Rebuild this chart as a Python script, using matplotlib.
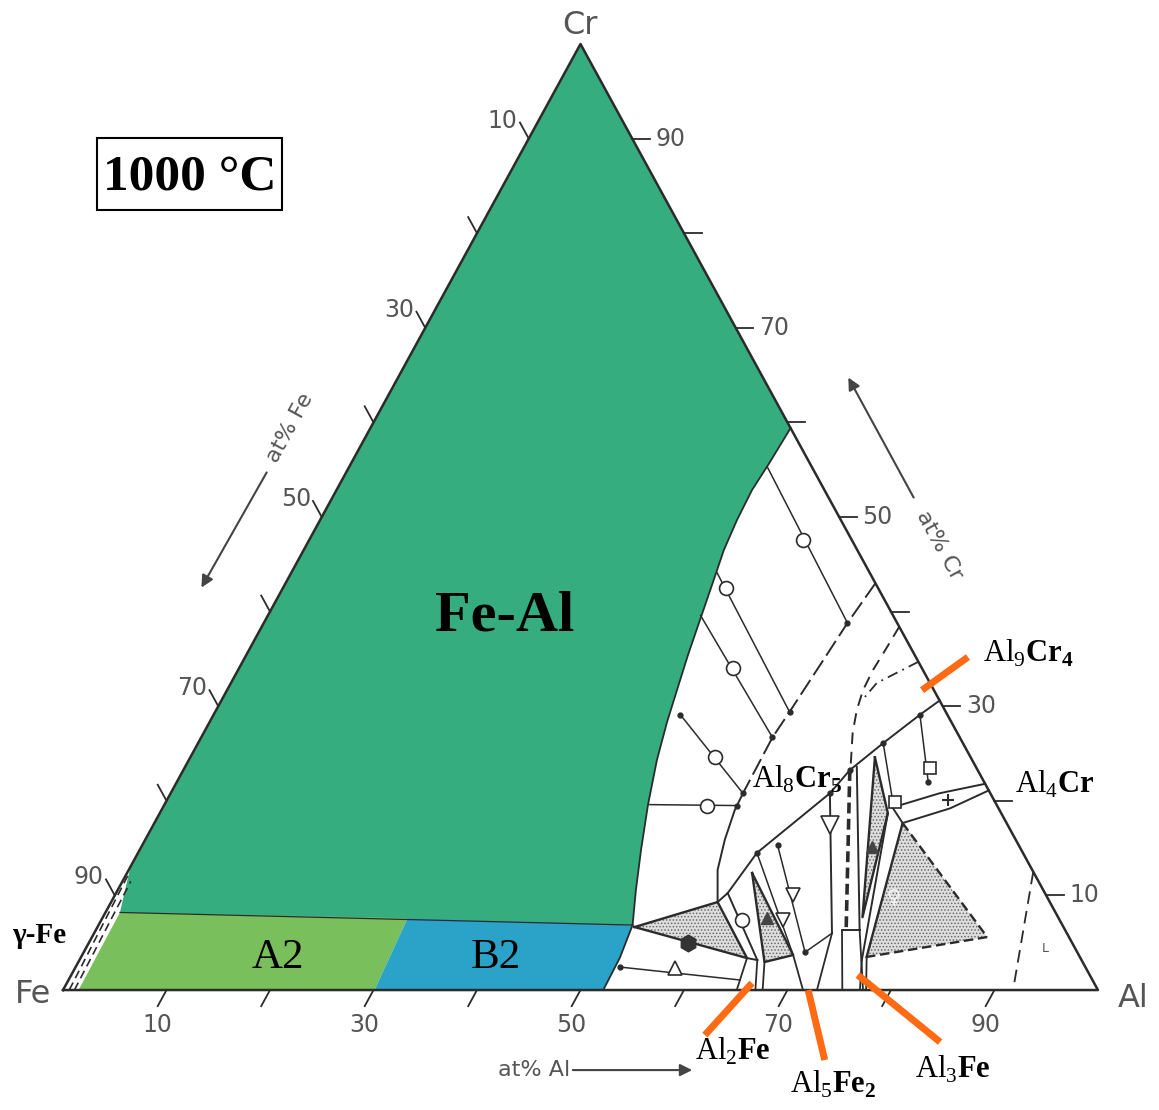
import matplotlib.pyplot as plt
import numpy as np

plt.rcParams["mathtext.fontset"] = "custom"
plt.rcParams["mathtext.rm"] = "Liberation Serif"
plt.rcParams["mathtext.bf"] = "Liberation Serif:bold"
plt.rcParams["hatch.linewidth"] = 0.7

# all compositions are (at% Al, at% Cr); Fe is the remainder
FE_AL_EDGE = [(40.6, 59.4), (40.4, 55.8), (40.15, 52.85), (40.28, 49.68), (40.6, 46.51),
              (41.3, 42.81), (41.99, 39.11), (42.68, 35.41), (43.47, 31.71), (44.2, 28.33),
              (45.23, 24.31), (46.74, 19.56), (48.45, 14.8), (50.07, 10.57), (51.6, 6.87)]
FE_AL_REGION = [(0, 100)] + FE_AL_EDGE + [(1.4, 8.2), (0.1, 12.7)]
A2_REGION = [(1.5, 0), (1.4, 8.2), (29.5, 7.6), (30.1, 0)]
B2_REGION = [(29.5, 7.6), (51.6, 6.87), (52.1, 3.4), (52.2, 0), (30.1, 0)]
B2_EDGE = [(51.6, 6.87), (52.1, 3.4), (52.2, 0)]
A2_TOP = [(1.4, 8.2), (51.6, 6.87)]
GAMMA_DASH_1 = [(0.6, 0), (0.2, 12.5)]
GAMMA_DASH_2 = [(1.1, 0), (0.8, 11.5)]

# tie lines: start, end
TIE_LINES = [
    [(40.4, 55.3), (56.4, 38.8)],
    [(41.15, 44.1), (55.5, 29.4)],
    [(41.8, 39.6), (55.2, 26.7)],
    [(45.1, 29.1), (55.3, 20.8)],
    [(46.9, 19.6), (55.4, 19.5)],
    [(52.6, 2.43), (64.9, 1.06)],
    [(59.8, 14.5), (68.7, 3.7)],
    [(61.4, 15.3), (69.7, 4.0)],
    [(69.7, 4.0), (71.3, 6.0)],
    [(68.25, 29.1), (72.6, 22.0)],
    [(66.2, 26.1), (70.1, 20.1)],
]
OPEN_CIRCLES = [(47.7, 47.6), (42.8, 42.5), (47.7, 34.0), (50.7, 24.6), (52.5, 19.5), (61.9, 7.4)]
DOWN_TRIANGLES = [(65.9, 7.4), (65.5, 10.0)]
BIG_DOWN_TRIANGLE = [(65.4, 17.4)]
UP_TRIANGLES = [(58.0, 2.3)]
SQUARES = [(72.0, 23.5), (70.45, 19.9)]
CROSSES = [(75.45, 20.1)]
FILLED_DOTS = [(57.9, 4.97)]
FILLED_TRIANGLES = [(64.2, 7.6), (70.6, 15.1)]
END_DOTS = [(56.4, 38.8), (55.5, 29.4), (55.2, 26.7), (55.3, 20.8), (55.4, 19.5), (59.8, 14.5),
            (61.4, 15.3), (69.7, 4.0), (68.25, 29.1), (72.6, 22.0), (66.2, 26.1), (63.7, 20.8),
            (64.4, 23.25), (70.1, 20.1), (52.6, 2.43), (45.1, 29.1)]

# phase boundaries
BOUND_DASHED = [(57.0, 43.0), (56.4, 38.8), (55.5, 29.4), (55.2, 26.7), (55.3, 20.8)]
BOUND_ARC = [(55.3, 20.8), (55.4, 19.0), (56.0, 15.9), (56.9, 12.7), (58.6, 9.3)]
BOUND_UPPER = [(58.6, 9.3), (59.1, 10.25), (59.8, 14.5), (63.7, 20.8), (64.4, 23.25),
               (66.2, 26.1), (68.25, 29.1), (69.4, 30.6)]
STRIP_SIDE = [(59.1, 10.25), (65.5, 3.17)]
STRIP_BOTTOM = [(64.4, 3.38), (65.5, 3.17)]
AL8CR5_LEFT = [(63.7, 20.8), (71.3, 6.0)]
AL8CR5_RIGHT = [(64.9, 23.6), (73.8, 6.34)]
AL8CR5_BOTTOM = [(72.1, 6.34), (73.8, 6.34)]
AL8CR5_DASHED = [(64.4, 23.25), (72.4, 6.55)]
T4_STRIP = [(70.35, 18.7), (75.6, 3.17)]
AL4CR_UPPER = [(70.5, 19.3), (74.3, 20.8), (78.2, 21.8)]
AL4CR_LOWER = [(72.3, 17.65), (76.1, 19.2), (78.9, 21.1)]
AL4CR_LEFT = [(70.5, 19.3), (72.3, 17.65)]
BASE_LINES = [
    [(64.4, 3.38), (65.1, 0)],
    [(65.5, 3.17), (66.9, 0)],
    [(66.3, 2.96), (67.6, 0)],
    [(68.7, 3.7), (71.5, 0)],
    [(71.3, 6.0), (72.85, 0)],
    [(72.1, 6.34), (75.3, 0)],
    [(73.8, 6.34), (77.3, 0)],
    [(75.6, 3.17), (77.0, 0)],
    [(75.9, 3.5), (77.6, 0)],
]
DASHED_CURVE = [(61.6, 38.4), (61.5, 36.26), (61.35, 33.8), (61.45, 31.7), (61.9, 29.6),
                (62.7, 27.2), (64.3, 23.6)]
DASHED_SHORT = [(65.3, 34.7), (62.4, 32.45), (61.9, 30.65)]
LIQUIDUS = [(87.5, 12.5), (91.8, 0)]

# stippled three-phase triangles
TRI_1 = [(51.9, 6.66), (58.6, 9.3), (64.4, 3.38)]
TRI_2 = [(60.4, 12.37), (68.7, 3.7), (66.3, 2.96)]
TRI_3 = [(72.3, 17.65), (86.5, 5.6), (75.9, 3.5)]
TRI_4 = [(66.15, 24.6), (70.35, 18.7), (73.4, 7.7)]

# orange pointers to the compounds
POINTERS = {
    "Al9Cr4": [(67.15, 31.7), (69.84, 35.2)],
    "Al2Fe": [(66.2, 0.74), (64.4, -4.76)],
    "Al5Fe2": [(72.0, 0), (77.3, -7.4)],
    "Al3Fe": [(76.0, 1.59), (87.5, -5.5)],
}

TICKS = [10, 20, 30, 40, 50, 60, 70, 80, 90]
TICK_LABELS = [10, 30, 50, 70, 90]

GREEN = "#35ad7f"
LIGHT_GREEN = "#79bf5c"
BLUE = "#2ba2c8"
ORANGE = "#ff6a13"
INK = "#2b2b2b"
GREY = "#555555"


def to_xy(points):
    pts = np.asarray(points, dtype=float)
    return pts[:, 0] + pts[:, 1] / 2, pts[:, 1]


def draw(ax, points, **kw):
    x, y = to_xy(points)
    ax.plot(x, y, **kw)


def fill(ax, points, **kw):
    x, y = to_xy(points)
    ax.fill(x, y, **kw)


fig = plt.figure(figsize=(11.59, 11.10), dpi=100)
ax = fig.add_axes([0, 0, 1, 1])
ax.set_xlim(-6.09, 105.9)
ax.set_ylim(-12.68, 104.65)
ax.axis("off")

# coloured fields
fill(ax, FE_AL_REGION, color=GREEN, lw=0)
fill(ax, A2_REGION, color=LIGHT_GREEN, lw=0)
fill(ax, B2_REGION, color=BLUE, lw=0)
draw(ax, FE_AL_EDGE, color=INK, lw=1.3)
draw(ax, B2_EDGE, color=INK, lw=1.3)
draw(ax, A2_TOP, color=INK, lw=0.9)
draw(ax, GAMMA_DASH_1, color=INK, lw=1.2, ls=(0, (5, 3)))
draw(ax, GAMMA_DASH_2, color=INK, lw=1.2, ls=(0, (5, 3)))

# stippled triangles
for tri in [TRI_1, TRI_2, TRI_3, TRI_4]:
    fill(ax, tri, facecolor="#dedede", edgecolor="#6a6a6a", hatch=".....", lw=0)
for tri in [TRI_1, TRI_2, TRI_4]:
    draw(ax, tri + tri[:1], color=INK, lw=1.7)
draw(ax, [TRI_3[0], TRI_3[2]], color=INK, lw=1.7)
draw(ax, TRI_3[:2], color=INK, lw=1.7, ls=(0, (4, 2)))
draw(ax, TRI_3[1:], color=INK, lw=1.7, ls=(0, (4, 2)))

# boundaries
draw(ax, BOUND_DASHED, color=INK, lw=1.4, ls=(0, (9, 3)))
for pts in [BOUND_ARC, BOUND_UPPER, STRIP_SIDE, STRIP_BOTTOM, AL8CR5_LEFT, AL8CR5_RIGHT,
            AL8CR5_BOTTOM, T4_STRIP, AL4CR_UPPER, AL4CR_LOWER, AL4CR_LEFT]:
    draw(ax, pts, color=INK, lw=1.4)
for pts in BASE_LINES:
    draw(ax, pts, color=INK, lw=1.3)
draw(ax, AL8CR5_DASHED, color=INK, lw=2.6, ls=(0, (3, 1.5)))
draw(ax, DASHED_CURVE, color=INK, lw=1.4, ls=(0, (6, 4)))
draw(ax, DASHED_SHORT, color=INK, lw=1.3, ls=(0, (6, 3, 1, 3)))
draw(ax, LIQUIDUS, color=INK, lw=1.3, ls=(0, (7, 4)))

# tie lines and symbols
for pts in TIE_LINES:
    draw(ax, pts, color=INK, lw=1.1)
draw(ax, END_DOTS, ls="none", marker="o", ms=3.5, color=INK)
draw(ax, OPEN_CIRCLES, ls="none", marker="o", ms=10, mfc="white", mec=INK, mew=1.2)
draw(ax, DOWN_TRIANGLES, ls="none", marker="v", ms=10, mfc="white", mec=INK, mew=1.2)
draw(ax, BIG_DOWN_TRIANGLE, ls="none", marker="v", ms=13, mfc="white", mec=INK, mew=1.2)
draw(ax, UP_TRIANGLES, ls="none", marker="^", ms=10, mfc="white", mec=INK, mew=1.2)
draw(ax, SQUARES, ls="none", marker="s", ms=9, mfc="white", mec=INK, mew=1.2)
draw(ax, CROSSES, ls="none", marker="+", ms=8, color=INK, mew=1.5)
draw(ax, FILLED_DOTS, ls="none", marker="h", ms=12, color="#333333")
draw(ax, FILLED_TRIANGLES, ls="none", marker="^", ms=9, color="#444444")
ax.text(80.2, 9.8, "\u2640", fontsize=14, color="#f4f4f4", ha="center", va="center",
        fontweight="bold")
ax.text(94.9, 4.4, "L", fontsize=9, color=GREY, ha="center", va="center")

# triangle frame
draw(ax, [(0, 0), (100, 0), (0, 100), (0, 0)], color=INK, lw=1.8)
t = 1.7
for v in TICKS:
    draw(ax, [(v, 0), (v, -t)], color=INK, lw=1.3)
    draw(ax, [(0, 100 - v), (-t, 100 - v + t)], color=INK, lw=1.3)
    draw(ax, [(100 - v, v), (100 - v + t, v)], color=INK, lw=1.3)
for v in TICK_LABELS:
    ax.text(v - 0.9, -3.7, str(v), fontsize=17, color=GREY, ha="center", va="center")
    ax.text((100 - v) / 2 - 2.5, 100 - v + 1.9, str(v), fontsize=17, color=GREY,
            ha="center", va="center")
    ax.text(100 - v / 2 + 3.7, v, str(v), fontsize=17, color=GREY, ha="center", va="center")

ax.text(-2.9, -0.5, "Fe", fontsize=23, color=GREY, ha="center", va="center")
ax.text(103.4, -0.9, "Al", fontsize=23, color=GREY, ha="center", va="center")
ax.text(49.95, 102.0, "Cr", fontsize=23, color=GREY, ha="center", va="center")

# axis titles with arrows
ax.text(45.5, -8.4, "at% Al", fontsize=16, color=GREY, ha="center", va="center")
ax.annotate("", xy=(61.06, -8.46), xytext=(48.99, -8.46),
            arrowprops=dict(arrowstyle="-|>", color="#444444", lw=1.5, mutation_scale=18))
ax.text(21.9, 59.4, "at% Fe", fontsize=16, color=GREY, ha="center", va="center", rotation=61.3)
ax.annotate("", xy=(13.24, 42.28), xytext=(19.81, 54.97),
            arrowprops=dict(arrowstyle="-|>", color="#444444", lw=1.5, mutation_scale=18))
ax.text(84.7, 47.0, "at% Cr", fontsize=16, color=GREY, ha="center", va="center", rotation=-61.3)
ax.annotate("", xy=(75.75, 65.0), xytext=(82.32, 51.8),
            arrowprops=dict(arrowstyle="-|>", color="#444444", lw=1.5, mutation_scale=18))

# phase labels
serif = "Liberation Serif"
ax.text(42.7, 38.0, "Fe-Al", fontsize=42, fontweight="bold", family=serif, ha="center",
        va="baseline", color="black")
ax.text(20.8, 2.3, "A2", fontsize=31, family=serif, ha="center", va="baseline", color="black")
ax.text(41.8, 2.3, "B2", fontsize=31, family=serif, ha="center", va="baseline", color="black")
ax.add_patch(plt.Rectangle((3.285, 82.45), 17.87, 7.61, fill=False, ec="black", lw=1.5))
ax.text(12.22, 84.6, "1000 °C", fontsize=37, fontweight="bold", family=serif, ha="center",
        va="baseline", color="black")
ax.text(-4.93, 4.97, "γ-Fe", fontsize=21, fontweight="bold", family=serif, ha="left",
        va="baseline", color="black")

for pts in POINTERS.values():
    draw(ax, pts, color=ORANGE, lw=5, solid_capstyle="butt")

compound_labels = [
    (88.9, 34.7, r"$\mathrm{Al}_{\mathrm{9}}\mathbf{Cr}_{\mathbf{4}}$"),
    (91.98, 20.8, r"$\mathrm{Al}_{\mathrm{4}}\mathbf{Cr}$"),
    (66.57, 21.35, r"$\mathrm{Al}_{\mathrm{8}}\mathbf{Cr}_{\mathbf{5}}$"),
    (61.06, -7.4, r"$\mathrm{Al}_{\mathrm{2}}\mathbf{Fe}$"),
    (70.24, -10.9, r"$\mathrm{Al}_{\mathrm{5}}\mathbf{Fe}_{\mathbf{2}}$"),
    (82.32, -9.3, r"$\mathrm{Al}_{\mathrm{3}}\mathbf{Fe}$"),
]
for x, y, s in compound_labels:
    ax.text(x, y, s, fontsize=22, ha="left", va="baseline", color="black")

fig.savefig("out.png", dpi=100)
